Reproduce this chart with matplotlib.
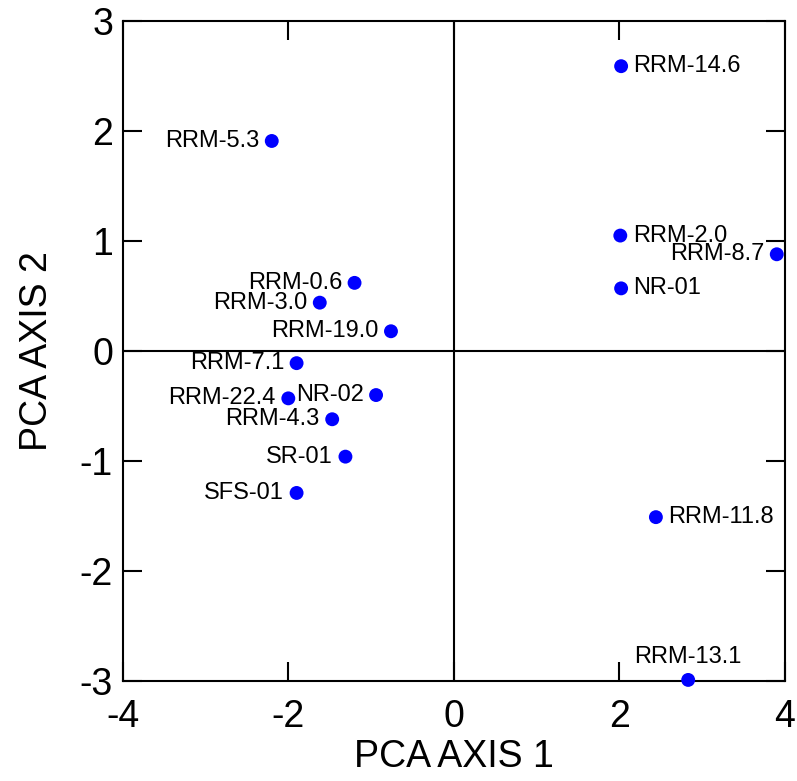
import matplotlib.pyplot as plt

# ==========================
# DATOS
# ==========================

muestras = ["RRM-14.6", "RRM-5.3", "RRM-2.0", "RRM-8.7", "NR-01",
            "RRM-0.6", "RRM-3.0", "RRM-19.0", "RRM-7.1", "NR-02",
            "RRM-22.4", "RRM-4.3", "SR-01", "SFS-01", "RRM-11.8",
            "RRM-13.1"]
eje1 = [2.02, -2.20, 2.01, 3.90, 2.02,
        -1.20, -1.62, -0.76, -1.90, -0.94,
        -2.00, -1.47, -1.31, -1.90, 2.44,
        2.83]
eje2 = [2.59, 1.91, 1.05, 0.88, 0.57,
        0.62, 0.44, 0.18, -0.11, -0.40,
        -0.43, -0.62, -0.96, -1.29, -1.51,
        -2.99]

xticks = [-4, -2, 0, 2, 4]
yticks = [-3, -2, -1, 0, 1, 2, 3]

# posicion de cada etiqueta: derecha, arriba o izquierda (por defecto)
derecha = ["RRM-14.6", "RRM-2.0", "NR-01", "RRM-11.8"]
arriba = ["RRM-13.1"]

# ==========================
# FIGURA
# ==========================

plt.rcParams['font.family'] = ['Liberation Sans', 'DejaVu Sans']

fig = plt.figure(figsize=(7.97, 7.81), dpi=100)
ax = fig.add_axes([0.154, 0.128, 0.831, 0.845])

ax.axhline(0, color="black", lw=1.5, zorder=1)
ax.axvline(0, color="black", lw=1.5, zorder=1)

ax.scatter(eje1, eje2, s=100, color="#0000ff", zorder=3, clip_on=False,
           edgecolors="none")

for nombre, x, y in zip(muestras, eje1, eje2):
    if nombre in derecha:
        ax.annotate(nombre, (x, y), xytext=(9, 0), textcoords="offset points",
                    ha="left", va="center", fontsize=17)
    elif nombre in arriba:
        ax.annotate(nombre, (x, y), xytext=(0, 12), textcoords="offset points",
                    ha="center", va="baseline", fontsize=17)
    else:
        ax.annotate(nombre, (x, y), xytext=(-9, 0), textcoords="offset points",
                    ha="right", va="center", fontsize=17)

ax.set_xlim(-4, 4)
ax.set_ylim(-3, 3)
ax.set_xticks(xticks)
ax.set_yticks(yticks)
ax.set_xticklabels([str(t) for t in xticks])
ax.set_yticklabels([str(t) for t in yticks])

ax.tick_params(direction="in", length=14, width=1.5, labelsize=27,
               top=True, right=True)
ax.tick_params(axis="x", pad=13)
ax.tick_params(axis="y", pad=7)

for lado in ax.spines.values():
    lado.set_linewidth(1.5)

ax.set_xlabel("PCA AXIS 1", fontsize=27, labelpad=3)
ax.set_ylabel("PCA AXIS 2", fontsize=27, labelpad=18)

fig.savefig("out.png", dpi=100)
